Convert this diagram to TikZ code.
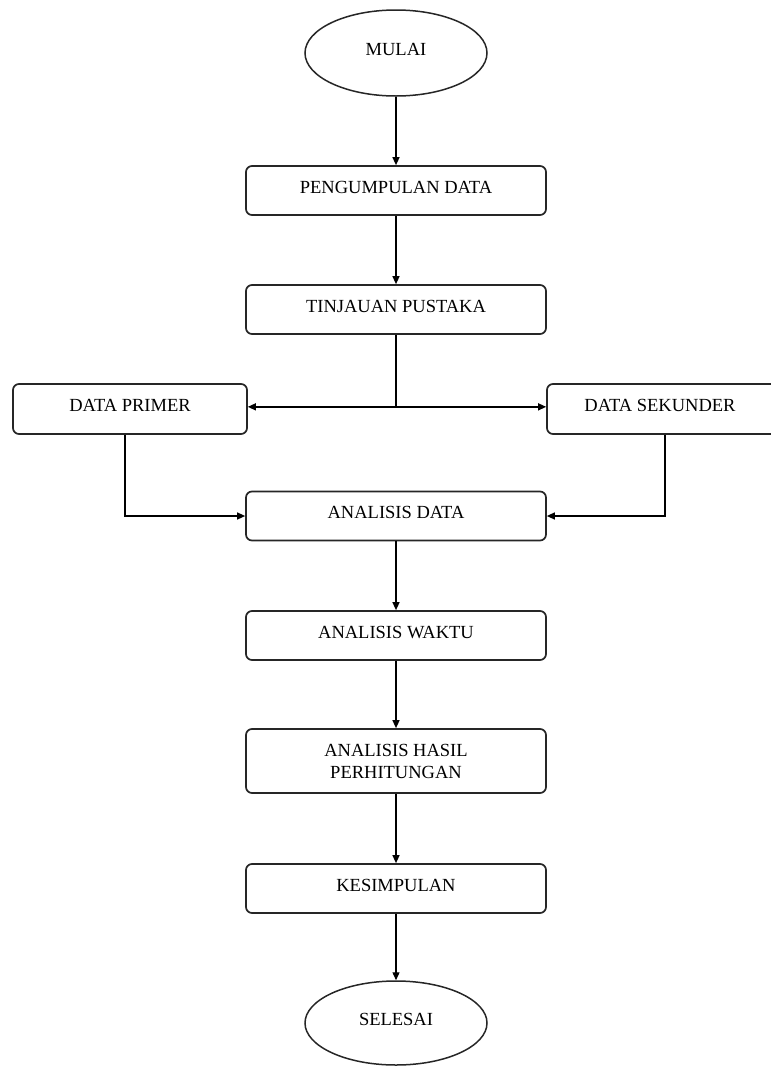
\documentclass[tikz,border=0pt]{standalone}
\usepackage{fontspec}
\setmainfont{Liberation Serif}
\usetikzlibrary{arrows.meta,shapes.geometric,calc}
\begin{document}
\begin{tikzpicture}[x=1pt,y=-1pt,
  every node/.style={font=\fontsize{18.5}{22}\selectfont},
  stepbox/.style={draw=black!85, line width=1.7pt, rounded corners=6pt, minimum width=300pt, minimum height=49pt, inner sep=0pt, align=center},
  raised/.style={text depth=7pt},
  term/.style={draw=black!85, line width=1.5pt, ellipse, minimum width=182pt, minimum height=86pt, inner sep=0pt, text depth=8pt},
  conn/.style={line width=1.3pt, -{Triangle[length=8pt,width=7pt]}},
  plain/.style={line width=1.3pt}]
\useasboundingbox (0,0) rectangle (771,1066);
\clip (0,0) rectangle (771,1066);
\node[term] (mulai) at (396,53) {MULAI};
\node[stepbox, raised] (peng) at (396,190.5) {PENGUMPULAN DATA};
\node[stepbox, raised] (tinj) at (396,309.5) {TINJAUAN PUSTAKA};
\node[stepbox, raised, minimum width=234pt, minimum height=50pt] (dp) at (130,409) {DATA PRIMER};
\node[stepbox, raised, minimum width=236pt, minimum height=50pt] (ds) at (665,409) {\hspace*{-10pt}DATA SEKUNDER};
\node[stepbox, raised] (ad) at (396,516) {ANALISIS DATA};
\node[stepbox, raised] (aw) at (396,635.5) {ANALISIS WAKTU};
\node[stepbox, minimum height=64pt] (ah) at (396,761) {ANALISIS HASIL\\PERHITUNGAN};
\node[stepbox, raised] (kes) at (396,888.5) {KESIMPULAN};
\node[term, minimum height=84pt] (sel) at (396,1023) {SELESAI};
\coordinate (j) at ($(tinj.south)+(0,72)$);
\draw[conn] (mulai.south) -- (peng.north);
\draw[conn] (peng.south) -- (tinj.north);
\draw[plain] (tinj.south) -- (j);
\draw[conn] (j) -- (j -| dp.east);
\draw[conn] (j) -- (j -| ds.west);
\draw[conn] ([xshift=-5pt]dp.south) |- (ad.west);
\draw[conn] (ds.south) |- (ad.east);
\draw[conn] (ad.south) -- (aw.north);
\draw[conn] (aw.south) -- (ah.north);
\draw[conn] (ah.south) -- (kes.north);
\draw[conn] (kes.south) -- (sel.north);
\end{tikzpicture}
\end{document}
